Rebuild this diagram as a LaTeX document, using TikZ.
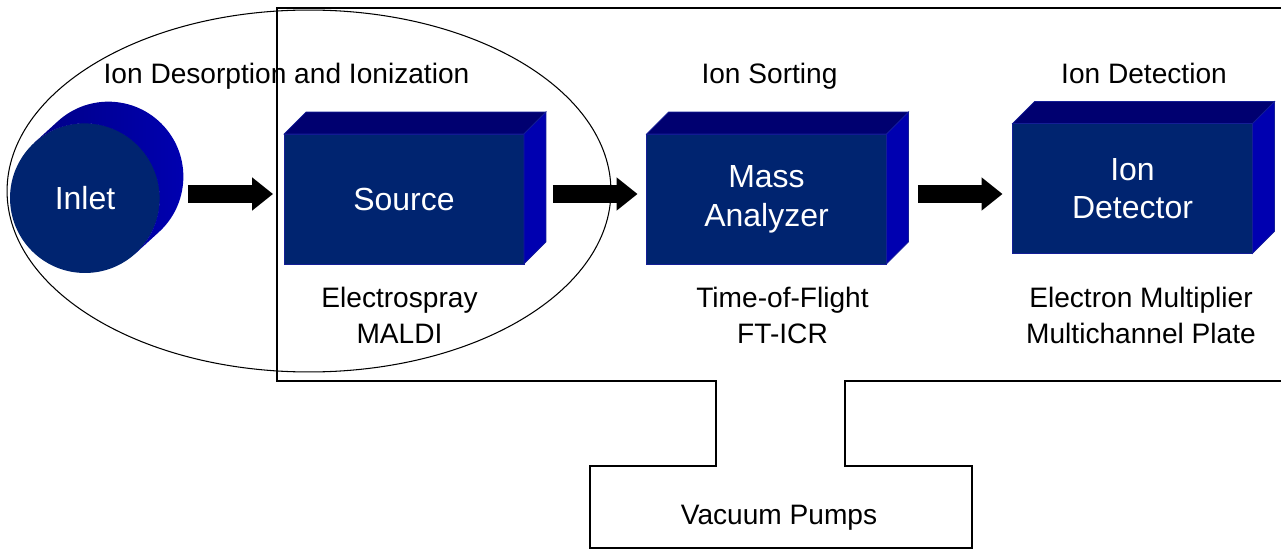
\documentclass[tikz,border=0pt]{standalone}
\usepackage{fontspec}
\setmainfont{Liberation Sans}
\usetikzlibrary{arrows.meta}

\definecolor{boxfront}{RGB}{0,36,112}
\definecolor{boxtop}{RGB}{0,0,112}
\definecolor{boxside}{RGB}{0,0,176}
\definecolor{boxedge}{RGB}{20,30,150}
\definecolor{inlettop}{RGB}{0,0,135}
\definecolor{inletside}{RGB}{0,0,178}

\begin{document}
\begin{tikzpicture}[
    x=0.02cm, y=0.02cm,
    every node/.style={inner sep=0pt, outer sep=0pt},
    block/.style={rectangle, fill=boxfront, draw=boxedge, line width=0.4pt, minimum width=4.8cm, minimum height=2.6cm, text=white, align=center, font=\fontsize{18.2}{22}\selectfont},
    inletnode/.style={circle, fill=boxfront, minimum size=3cm, text=white, font=\fontsize{18.2}{22}\selectfont},
    topface/.style={fill=boxtop, draw=boxedge, line width=0.4pt},
    sideface/.style={fill=boxside, draw=boxedge, line width=0.4pt},
    stagetext/.style={anchor=base, font=\fontsize{16}{20.5}\selectfont},
    subtext/.style={align=center, font=\fontsize{16}{20.5}\selectfont},
    flowarrow/.style={-{Triangle[length=0.42cm, width=0.64cm]}, line width=0.36cm},
    outline/.style={semithick}
]
\useasboundingbox (0,0) rectangle (1281,552);

% chamber, pumping line and source region
\draw[outline] (1281,544) -- (277,544) -- (277,171) -- (716,171) -- (716,86) -- (590,86) -- (590,4) -- (972,4) -- (972,86) -- (845,86) -- (845,171) -- (1281,171);
\draw[outline] (309,361) ellipse [x radius=6.04cm, y radius=3.62cm];

\node (inlet) [inletnode] at (85,354) {Inlet};
\shade[left color=inlettop, right color=inletside] (inlet.132.4) -- ++(23,21) arc[start angle=132.4, end angle=-47.6, radius=1.5cm] -- (inlet.312.4) arc[start angle=-47.6, end angle=132.4, radius=1.5cm] -- cycle;

\node (source) [block] at (404,353) {Source};
\node (analyzer) [block] at (766.5,353) {Mass\\Analyzer};
\node (detector) [block] at (1132.5,363.5) {Ion\\Detector};

\foreach \b in {source,analyzer,detector} {
  \filldraw[topface] (\b.north west) -- ++(22,22) -- ([shift={(22,22)}]\b.north east) -- (\b.north east) -- cycle;
  \filldraw[sideface] (\b.north east) -- ++(22,22) -- ([shift={(22,22)}]\b.south east) -- (\b.south east) -- cycle;
}

\draw[flowarrow] ([shift={(28,4)}]inlet.east) -- ([shift={(-11,5)}]source.west);
\draw[flowarrow] ([shift={(29,5)}]source.east) -- ([shift={(-9,5)}]analyzer.west);
\draw[flowarrow] ([shift={(31.5,5)}]analyzer.east) -- ([shift={(-10,-5.5)}]detector.west);

% stage names
\node (desorption) [stagetext] at (286.5,468) {Ion Desorption and Ionization};
\node (sorting) [stagetext] at (769.5,468) {Ion Sorting};
\node (detection) [stagetext] at (1144,468) {Ion Detection};

% examples under each stage
\node (esi) [subtext] at (399.5,237) {Electrospray\\MALDI};
\node (tof) [subtext] at (782.5,237) {Time-of-Flight\\FT-ICR};
\node (emp) [subtext] at (1141,237) {Electron Multiplier\\Multichannel Plate};

\node (pumps) [stagetext] at (779,28) {Vacuum Pumps};

\end{tikzpicture}
\end{document}
